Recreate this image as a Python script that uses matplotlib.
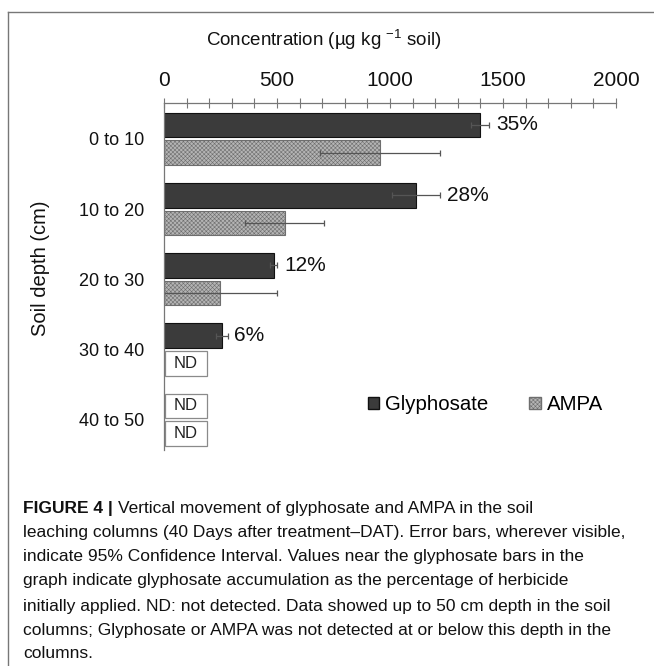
import numpy as np
import matplotlib
matplotlib.use("Agg")
import matplotlib.pyplot as plt
from matplotlib.lines import Line2D
from matplotlib.patches import Patch

plt.rcParams["font.family"] = ["Liberation Sans", "DejaVu Sans"]
plt.rcParams["mathtext.fontset"] = "custom"
plt.rcParams["mathtext.rm"] = "Liberation Sans"
plt.rcParams["hatch.linewidth"] = 0.4
plt.rcParams["hatch.color"] = "#7a7a7a"

# data (ug/kg soil), None = not detected
depths = ["0 to 10", "10 to 20", "20 to 30", "30 to 40", "40 to 50"]
glyphosate = [1400, 1115, 485, 255, None]
glyphosate_err = [40, 107, 15, 26, None]
ampa = [955, 535, 250, None, None]
ampa_err = [265, 175, 248, None, None]
glyph_pct = ["35%", "28%", "12%", "6%", None]

caption = [
    "Vertical movement of glyphosate and AMPA in the soil",
    "leaching columns (40 Days after treatment\u2013DAT). Error bars, wherever visible,",
    "indicate 95% Confidence Interval. Values near the glyphosate bars in the",
    "graph indicate glyphosate accumulation as the percentage of herbicide",
    "initially applied. ND: not detected. Data showed up to 50 cm depth in the soil",
    "columns; Glyphosate or AMPA was not detected at or below this depth in the",
    "columns.",
]

W, H = 654, 666
fig = plt.figure(figsize=(W / 100, H / 100), dpi=100)
ax = fig.add_axes([164 / W, 1 - 450 / H, (616 - 164) / W, (450 - 103) / H])

glyph_color = "#3b3b3b"
ampa_color = "#b4b4b4"
ampa_hatch = "xxxxxxxx"
err_color = "#555555"
nd_width = 185
bh = 0.35
off = 0.197
y = np.arange(len(depths))


def draw_series(vals, errs, ypos, face, hatch, edge):
    for yi, v, e in zip(ypos, vals, errs):
        if v is None:
            ax.barh(yi, nd_width, left=4, height=bh, color="white",
                    edgecolor="#8a8a8a", linewidth=0.9)
            ax.text(4 + nd_width / 2, yi, "ND", ha="center", va="center",
                    fontsize=12, color="#222222")
            continue
        ax.barh(yi, v, height=bh, color=face, hatch=hatch, edgecolor=edge,
                linewidth=0.8)
        ax.errorbar(v, yi, xerr=e, fmt="none", ecolor=err_color,
                    elinewidth=0.9, capsize=2.2, capthick=0.9)


draw_series(glyphosate, glyphosate_err, y - off, glyph_color, None, "#111111")
draw_series(ampa, ampa_err, y + off, ampa_color, ampa_hatch, "#6e6e6e")

for yi, v, e, lab in zip(y - off, glyphosate, glyphosate_err, glyph_pct):
    if lab is None:
        continue
    ax.annotate(lab, (v + e, yi), xytext=(5, 0), textcoords="offset points",
                ha="left", va="center", fontsize=15, color="#111111")

ax.set_xlim(0, 2000)
ax.set_ylim(4.43, -0.51)
ax.xaxis.tick_top()
ax.set_xticks(np.arange(0, 2001, 500))
ax.set_xticks(np.arange(0, 2001, 100), minor=True)
ax.tick_params(axis="x", which="both", direction="inout", length=7,
               width=0.8, color="#777777", labelsize=15, pad=6,
               labelcolor="#111111")
ax.set_yticks(y)
ax.set_yticklabels(depths)
ax.tick_params(axis="y", length=0, pad=14, labelsize=13,
               labelcolor="#111111")
for side in ["right", "bottom"]:
    ax.spines[side].set_visible(False)
for side in ["top", "left"]:
    ax.spines[side].set_color("#777777")
    ax.spines[side].set_linewidth(0.9)

fig.text(324 / W, 1 - 40 / H, r"Concentration (µg kg $^{\mathrm{-1}}$ soil)",
         fontsize=13.5, ha="center", va="center", color="#111111")
fig.text(41 / W, 1 - 268 / H, "Soil depth (cm)", fontsize=14.5,
         rotation=90, ha="center", va="center", color="#111111")

handles = [Patch(facecolor=glyph_color, edgecolor="#111111"),
           Patch(facecolor=ampa_color, hatch=ampa_hatch, edgecolor="#6e6e6e")]
ax.legend(handles, ["Glyphosate", "AMPA"], ncol=2, frameon=False,
          loc="center left", bbox_to_anchor=(368 / W, 1 - 405 / H),
          bbox_transform=fig.transFigure, borderpad=0, borderaxespad=0,
          handlelength=0.55, handleheight=0.55, handletextpad=0.3,
          columnspacing=2.0, fontsize=14.7)

# frame lines of the figure panel
fig.add_artist(Line2D([8 / W, 1], [1 - 12 / H, 1 - 12 / H],
                      transform=fig.transFigure, color="#777777", lw=1))
fig.add_artist(Line2D([8 / W, 8 / W], [0, 1 - 12 / H],
                      transform=fig.transFigure, color="#777777", lw=1))

# caption
cap_size = 12.5
x0 = 23 / W
line_y = [509, 533, 557, 581, 606, 630, 654]
head = fig.text(x0, 1 - line_y[0] / H, "FIGURE 4 | ", fontsize=cap_size,
                fontweight="bold", va="center", color="#111111")
fig.canvas.draw()
bb = head.get_window_extent()
fig.text(bb.x1 / W, 1 - line_y[0] / H, caption[0], fontsize=cap_size,
         va="center", color="#111111")
for txt, ly in zip(caption[1:], line_y[1:]):
    fig.text(x0, 1 - ly / H, txt, fontsize=cap_size, va="center",
             color="#111111")

fig.savefig("out.png", dpi=100)
